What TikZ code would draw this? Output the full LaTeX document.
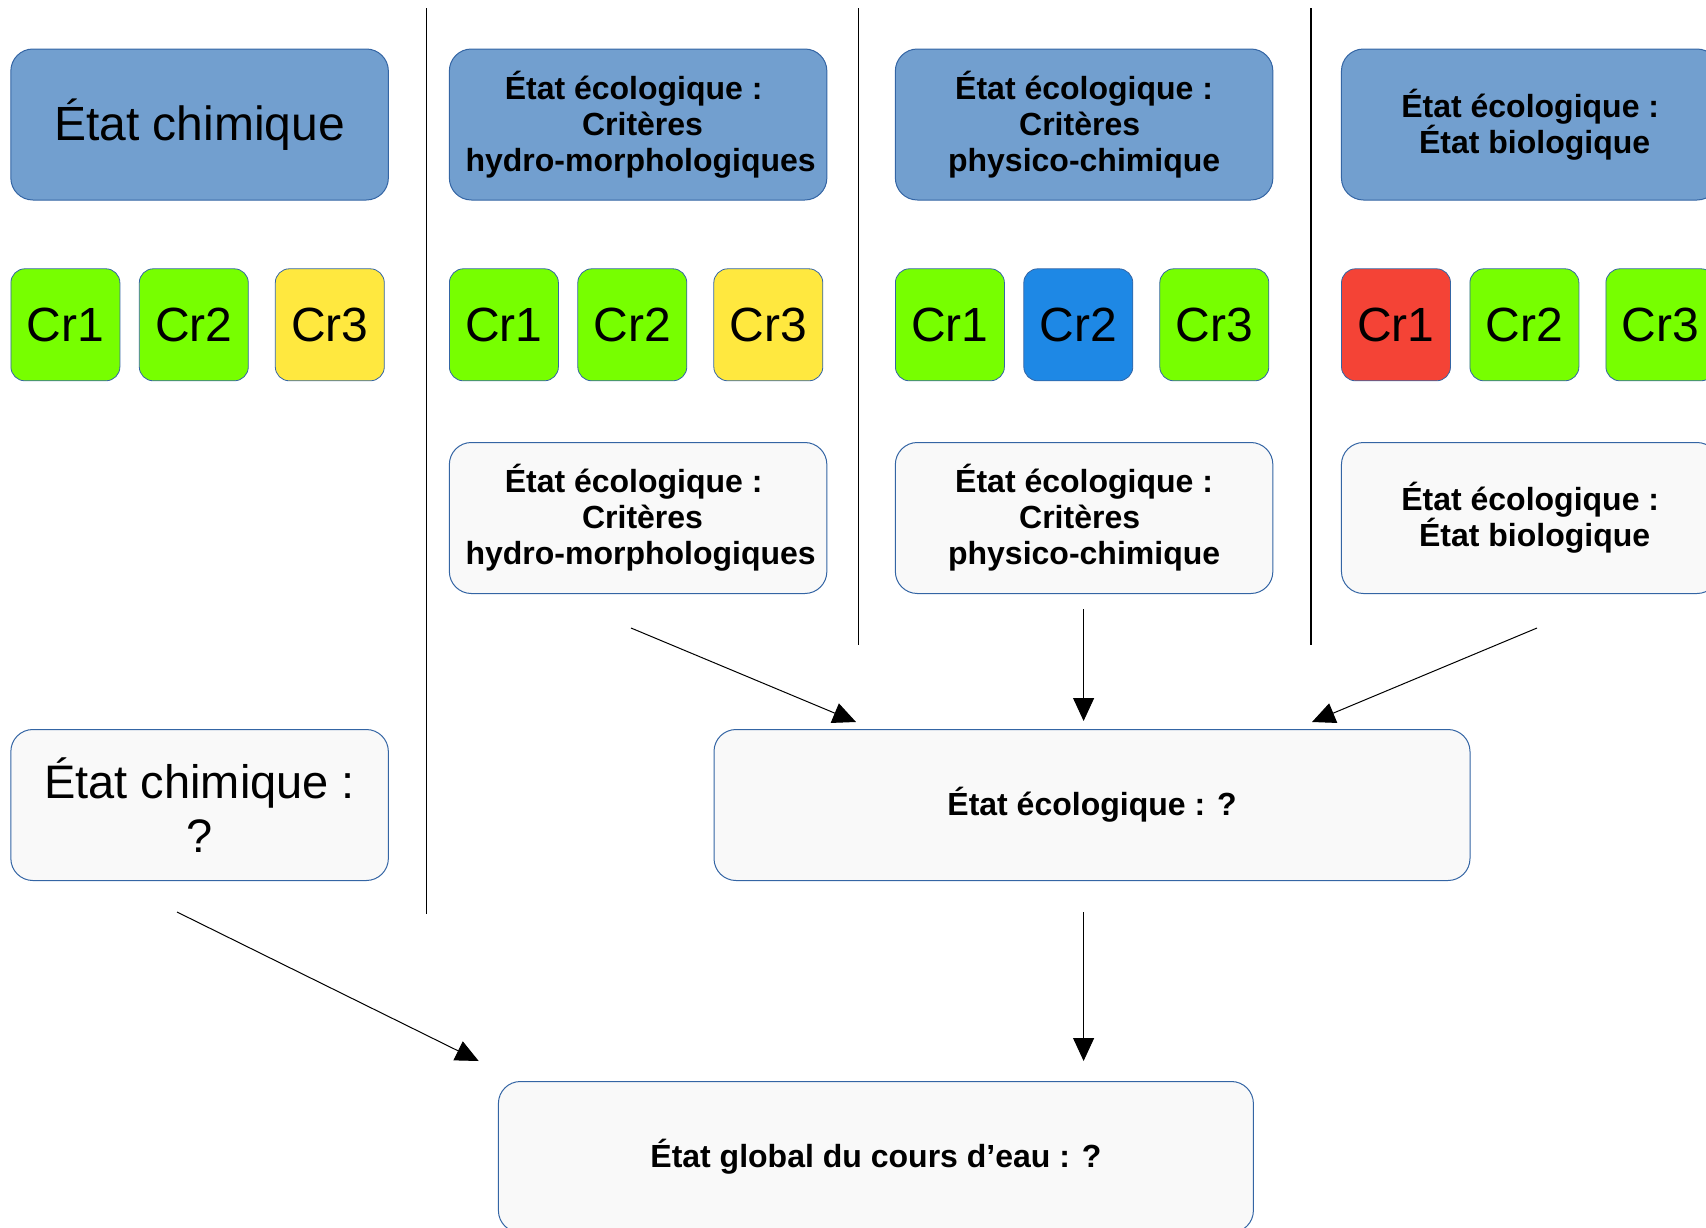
\documentclass[tikz,border=0pt]{standalone}
\usepackage{fontspec}
\setmainfont{Liberation Sans}
\usetikzlibrary{arrows.meta}
\definecolor{hdr}{HTML}{729FCF}
\definecolor{edge}{HTML}{3465A4}
\definecolor{crgreen}{HTML}{77FF00}
\definecolor{cryellow}{HTML}{FFE83F}
\definecolor{crred}{HTML}{F44336}
\definecolor{crblue}{HTML}{1E88E5}
\definecolor{pale}{HTML}{F9F9F9}
\newcommand{\hydrotxt}{État écologique :\kern8.9pt\\\kern8.9pt Critères\\\kern5pt hydro-morphologiques}
\newcommand{\phystxt}{État écologique :\\Critères\kern8.9pt\\physico-chimique}
\newcommand{\biotxt}{État écologique :\\\kern8.9pt État biologique}
\begin{document}
\begin{tikzpicture}[x=1pt,y=-1pt,
  box/.style={draw=edge, line width=1pt, rounded corners=22pt, inner sep=0pt, align=center,
              minimum width=377.5pt, minimum height=151pt},
  hdrbox/.style={box, fill=hdr},
  resbox/.style={box, fill=pale},
  boldtxt/.style={font=\bfseries\fontsize{32}{36}\selectfont},
  crbox/.style={draw=edge, line width=0.8pt, rounded corners=14pt, minimum width=109pt,
                minimum height=112pt, inner sep=0pt, font=\fontsize{48}{54}\selectfont},
  conn/.style={line width=1pt, -{Triangle[length=23pt,width=21pt]}},
  sep/.style={line width=1.3pt}]
\useasboundingbox (0,0) rectangle (1706,1227);
\clip (0,0) rectangle (1706,1227);

% separators
\draw[sep] (426.5,8) -- (426.5,914);
\draw[sep] (858.4,8) -- (858.4,645);
\draw[sep] (1311,8) -- (1311,645);

% header boxes
\node[hdrbox, font=\fontsize{48}{54}\selectfont] (chem) at (199.6,124.5) {État chimique};
\node[hdrbox, boldtxt] (hyd) at (638.1,124.5) {\hydrotxt};
\node[hdrbox, boldtxt] (phy) at (1084.1,124.5) {\phystxt};
\node[hdrbox, boldtxt] (bio) at (1530.2,124.5) {\biotxt};

% criteria
\node[crbox, fill=crgreen]  (c11) at (65.4,324.8)  {Cr1};
\node[crbox, fill=crgreen]  (c12) at (193.8,324.8) {Cr2};
\node[crbox, fill=cryellow] (c13) at (329.8,324.8) {Cr3};
\node[crbox, fill=crgreen]  (c21) at (503.9,324.8) {Cr1};
\node[crbox, fill=crgreen]  (c22) at (632.3,324.8) {Cr2};
\node[crbox, fill=cryellow] (c23) at (768.3,324.8) {Cr3};
\node[crbox, fill=crgreen]  (c31) at (949.9,324.8)  {Cr1};
\node[crbox, fill=crblue]   (c32) at (1078.3,324.8) {Cr2};
\node[crbox, fill=crgreen]  (c33) at (1214.3,324.8) {Cr3};
\node[crbox, fill=crred]    (c41) at (1396.0,324.8) {Cr1};
\node[crbox, fill=crgreen]  (c42) at (1524.4,324.8) {Cr2};
\node[crbox, fill=crgreen]  (c43) at (1660.4,324.8) {Cr3};

% result boxes, second row
\node[resbox, boldtxt] (hyd2) at (638.1,518) {\hydrotxt};
\node[resbox, boldtxt] (phy2) at (1084.1,518) {\phystxt};
\node[resbox, boldtxt] (bio2) at (1530.2,518) {\biotxt};

% chem result and ecological result
\node[resbox, font=\fontsize{47}{54}\selectfont] (chem2) at (199.6,805) {État chimique :\\?};
\node[resbox, boldtxt, minimum width=756pt] (eco) at (1092,805) {État écologique : ?};
\node[resbox, boldtxt, minimum width=755pt] (glob) at (875.9,1157) {État global du cours d’eau : ?};

% connector ends
\coordinate (s1) at (631,628);
\coordinate (t1) at (856,722);
\coordinate (s2) at (1083.6,609);
\coordinate (t2) at (1083.6,721);
\coordinate (s3) at (1537,628);
\coordinate (t3) at (1312,722);
\coordinate (s4) at (1083.6,912);
\coordinate (t4) at (1083.6,1061);
\coordinate (s5) at (177,912);
\coordinate (t5) at (478.7,1061);

\draw[conn] (s1) -- (t1);
\draw[conn] (s2) -- (t2);
\draw[conn] (s3) -- (t3);
\draw[conn] (s4) -- (t4);
\draw[conn] (s5) -- (t5);
\end{tikzpicture}
\end{document}
